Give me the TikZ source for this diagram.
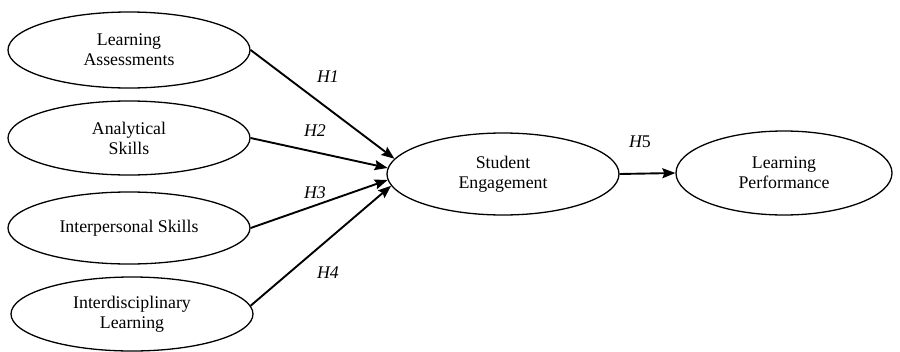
\documentclass[tikz,border=0pt]{standalone}
\usepackage{fontspec}
\setmainfont{Liberation Serif}
\usetikzlibrary{shapes.geometric,arrows.meta}
\begin{document}
\begin{tikzpicture}[x=1pt,y=-1pt,
  construct/.style={draw, ellipse, line width=1.3pt, inner sep=0pt, align=center,
    font=\fontsize{17.8}{20}\selectfont},
  link/.style={line width=1.9pt, -{Stealth[length=13pt,width=10pt,inset=2pt]}},
  hyp/.style={font=\fontsize{17.8}{20}\selectfont\itshape}]
\useasboundingbox (0,0) rectangle (900,351);
\node[construct, minimum width=242pt, minimum height=76pt] (la) at (129,50) {Learning\\Assessments};
\node[construct, minimum width=242pt, minimum height=74pt] (as) at (129,138) {Analytical\\Skills};
\node[construct, minimum width=242pt, minimum height=72pt] (is) at (129,228) {Interpersonal Skills};
\node[construct, minimum width=242pt, minimum height=74pt] (il) at (132,314) {Interdisciplinary\\Learning};
\node[construct, minimum width=232pt, minimum height=82pt] (se) at (503,174) {Student\\Engagement};
\node[construct, minimum width=216pt, minimum height=84pt] (lp) at (784,173) {Learning\\Performance};
\draw[link] (la.east) -- (se.172.8);
\draw[link] (as.east) -- (se.177.5);
\draw[link] (is.east) -- (se.183);
\draw[link] (il.4) -- (se.186.7);
\draw[link] (se.east) -- (lp.west);
\node[hyp] (h1) at (328,77) {H1};
\node[hyp] (h2) at (315,131) {H2};
\node[hyp] (h3) at (315,193) {H3};
\node[hyp] (h4) at (328,273) {H4};
\node[hyp] (h5) at (640,142) {H\upshape 5};
\end{tikzpicture}
\end{document}
